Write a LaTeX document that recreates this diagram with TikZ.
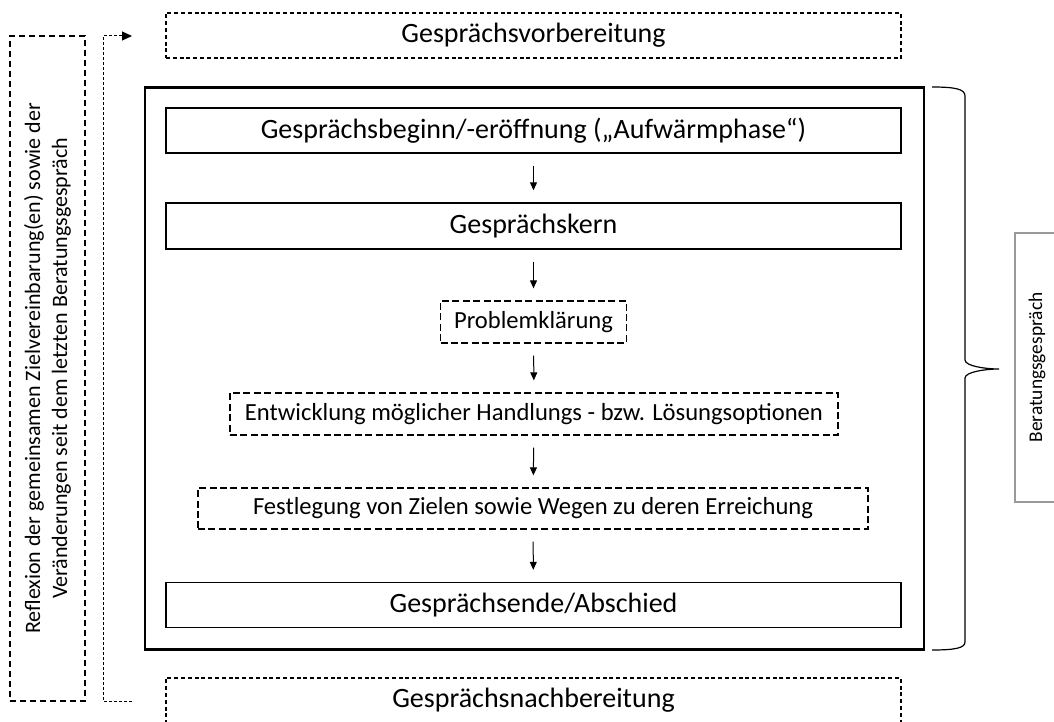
\documentclass[tikz,border=0pt]{standalone}
\usepackage{fontspec}
\setmainfont{Carlito}
\usetikzlibrary{arrows.meta}
\begin{document}
\begin{tikzpicture}[x=0.5pt,y=-0.5pt,
 sbox/.style={draw, line width=0.7pt, inner sep=0pt, minimum width=367.5pt, minimum height=22.5pt, font=\fontsize{14}{17}\selectfont},
 dbox/.style={draw, line width=0.65pt, dash pattern=on 3.5pt off 1.7pt, inner sep=0pt, minimum height=21pt, font=\fontsize{12.3}{14}\selectfont},
 pbox/.style={draw, line width=0.65pt, dash pattern=on 2pt off 1.4pt, inner sep=0pt, minimum width=367.5pt, minimum height=22.5pt, font=\fontsize{14}{17}\selectfont},
 arr/.style={-{Triangle[length=4pt,width=3.5pt]}, line width=0.5pt, shorten <=6pt, shorten >=6pt}]
\useasboundingbox (0,0) rectangle (1054,722);
% outer frame
\node[draw, line width=1.1pt, minimum width=389.5pt, minimum height=281pt, inner sep=0pt] (main) at (534.5,368.5) {};
% pre/post
\node[pbox] (vorb) at (533.5,35.5) {Gesprächsvorbereitung};
\node[pbox] (nach) at (533.5,700.5) {Gesprächsnachbereitung};
% phases
\node[sbox] (beginn) at (533.5,130.5) {Gesprächsbeginn/-eröffnung („Aufwärmphase“)};
\node[sbox, minimum height=23pt] (kern) at (533.5,226) {Gesprächskern};
\node[dbox, minimum width=93pt] (problem) at (533.5,322) {Problemklärung};
\node[dbox, minimum width=304pt] (entw) at (534,414) {Entwicklung möglicher Handlungs - bzw. Lösungsoptionen};
\node[dbox, minimum width=335pt, minimum height=20.5pt] (festl) at (533,508.5) {Festlegung von Zielen sowie Wegen zu deren Erreichung};
\node[sbox] (ende) at (533.5,605) {Gesprächsende/Abschied};
% arrows
\draw[arr] (beginn) -- (kern);
\draw[arr] (kern) -- (problem);
\draw[arr] (problem) -- (entw);
\draw[arr] (entw) -- (festl);
\draw[arr] (festl) -- (ende);
% left reflection box
\node[draw, line width=0.6pt, dash pattern=on 3pt off 2pt, minimum width=37.5pt, minimum height=332.5pt, inner sep=0pt] (refl) at (47.5,368.5) {};
\node[rotate=90, align=center, font=\fontsize{11}{13.5}\selectfont] (refltext) at (refl.center) {Reflexion der gemeinsamen Zielvereinbarung(en) sowie der\\Veränderungen seit dem letzten Beratungsgespräch};
% dotted loop arrow
\coordinate (lstart) at (132,701);
\coordinate (lb) at (103,701);
\coordinate (lt) at (103,36);
\coordinate (lend) at (132,36);
\draw[line width=0.5pt, dash pattern=on 1.5pt off 1pt, -{Triangle[length=5pt,width=4.5pt]}] (lstart) -- (lb) -- (lt) -- (lend);
% brace
\draw[line width=0.6pt] (932,87) .. controls (955,87) and (965,89) .. (965,96) -- (965,360) .. controls (965,366) and (985,369) .. (999,369) .. controls (985,369) and (965,372) .. (965,378) -- (965,642) .. controls (965,648) and (955,650) .. (932,650);
% Beratungsgespraech box
\node[draw=black!40, line width=0.6pt, minimum width=30pt, minimum height=134.5pt, inner sep=0pt] (berat) at (1045,367.5) {};
\node[rotate=90, font=\fontsize{9.7}{12}\selectfont] (berattext) at (1037,367.5) {Beratungsgespräch};
\end{tikzpicture}
\end{document}
